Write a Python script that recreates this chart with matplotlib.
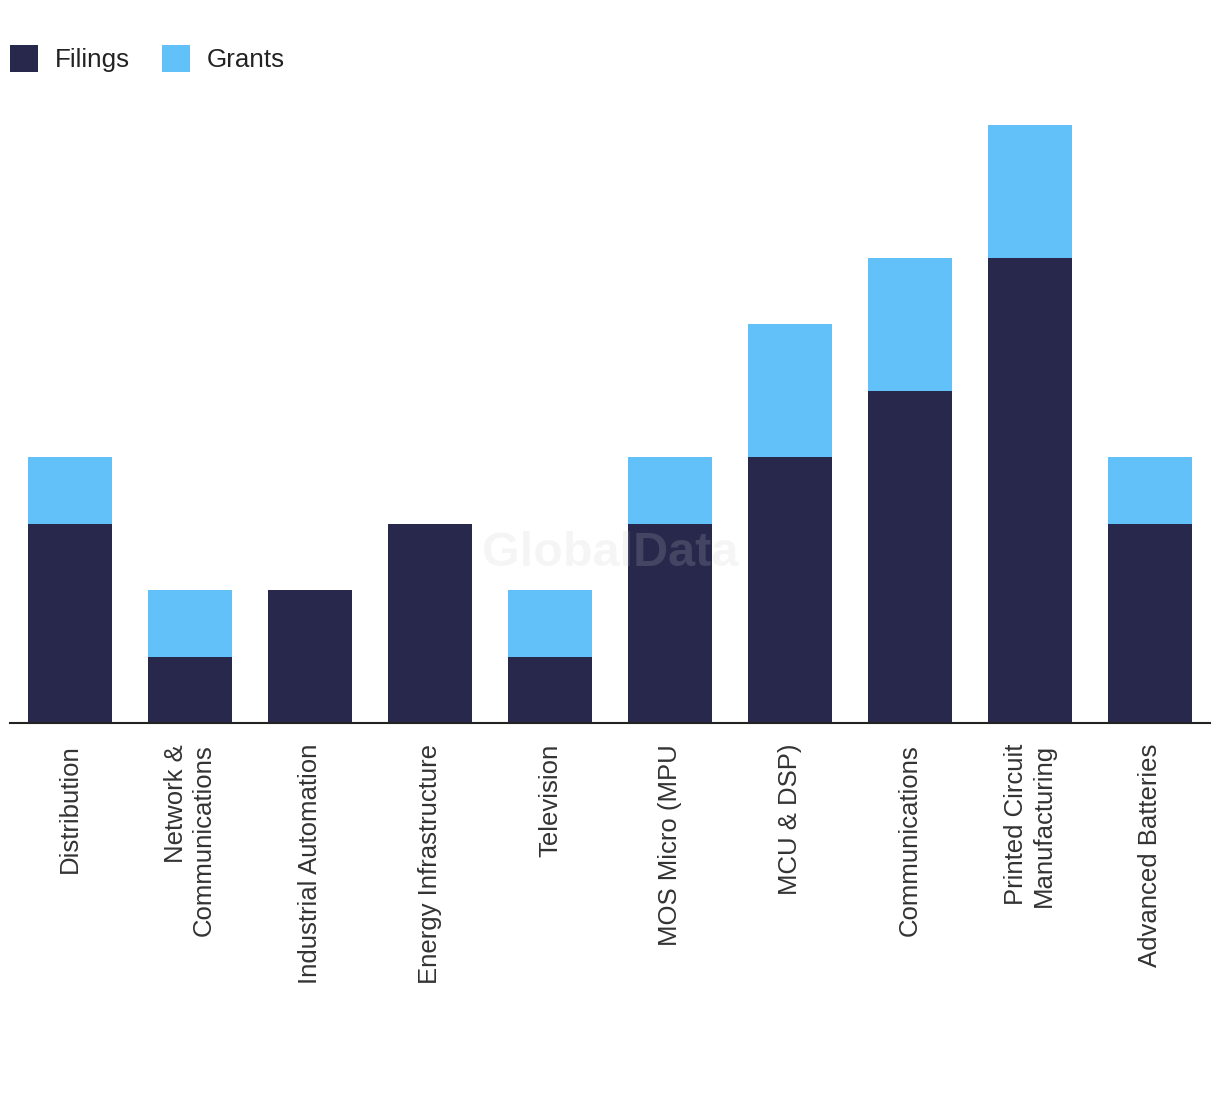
import matplotlib
matplotlib.use("Agg")
import matplotlib.pyplot as plt
from matplotlib.patches import Patch
import numpy as np

categories = ["Distribution", "Network &\nCommunications", "Industrial Automation",
              "Energy Infrastructure", "Television", "MOS Micro (MPU", "MCU & DSP)",
              "Communications", "Printed Circuit\nManufacturing", "Advanced Batteries"]
filings = [3, 1, 2, 3, 1, 3, 4, 5, 7, 3]
grants = [1, 1, 0, 0, 1, 1, 2, 2, 2, 1]

navy = "#27284B"
blue = "#62C1F8"

plt.rcParams['font.family'] = ['Liberation Sans', 'DejaVu Sans']

fig = plt.figure(figsize=(12.2, 10.94), dpi=100)
ax = fig.add_axes([10/1220, (1094-723)/1094, 1200/1220, 623/1094])

x = np.arange(len(categories))
ax.bar(x, filings, width=0.7, color=navy, zorder=2)
ax.bar(x, grants, width=0.7, bottom=filings, color=blue, zorder=2)

ax.set_xlim(-0.5, len(categories) - 0.5)
ax.set_ylim(0, 623/66.5)
ax.set_yticks([])
for s in ["top", "right", "left"]:
    ax.spines[s].set_visible(False)
ax.spines["bottom"].set_color("#222222")
ax.spines["bottom"].set_linewidth(1.5)
ax.spines["bottom"].set_zorder(3)

ax.set_xticks(x)
ax.set_xticklabels(categories, rotation=90, fontsize=18.5, color="#333333",
                   ha="center", va="top", multialignment="right")
ax.tick_params(axis="x", length=0, pad=15)

ax.text(0.5, 0.272, "GlobalData", transform=ax.transAxes, ha="center", va="center",
        fontsize=35, fontweight="bold", color="#cccccc", alpha=0.18, zorder=5,
        family=["Liberation Sans", "DejaVu Sans"])

handles = [Patch(facecolor=navy, label="Filings"), Patch(facecolor=blue, label="Grants")]
fig.legend(handles=handles, loc="upper left", bbox_to_anchor=(10/1220, 1-45/1094),
           ncol=2, frameon=False, fontsize=18.7, handlelength=1.08, handleheight=1.25,
           handletextpad=0.65, columnspacing=1.23, borderpad=0, borderaxespad=0,
           labelcolor="#222222")

fig.savefig("out.png", dpi=100, facecolor="white")
